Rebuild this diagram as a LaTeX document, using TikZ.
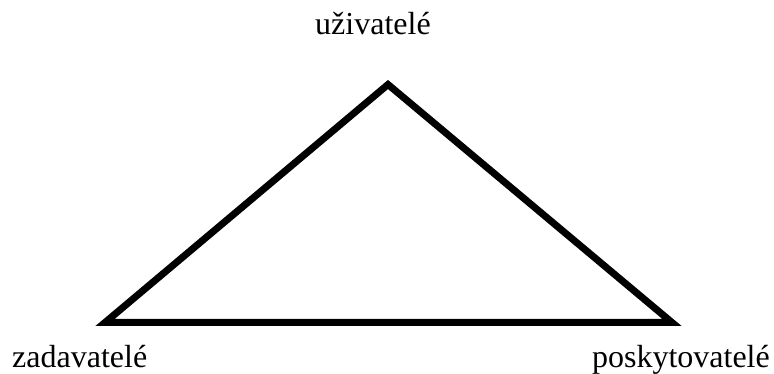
\documentclass[tikz,border=0pt]{standalone}
\usepackage{fontspec}
\setmainfont{Liberation Serif}
\usepackage{tikz}
\usetikzlibrary{positioning}
\tikzset{
  party/.style={inner sep=0pt,font=\fontsize{32}{38}\selectfont},
  side/.style={line width=7pt,line join=miter}
}

\begin{document}
\begin{tikzpicture}[x=1pt,y=1pt]
\useasboundingbox (0,0) rectangle (774,374);
\coordinate (top) at (388,289.5);
\coordinate (left) at (105,51.5);
\coordinate (right) at (672,51.5);
\draw[side] (left) -- (top) -- (right) -- cycle;
\node[party,anchor=base west] (uziv) at (315,339) {uživatelé};
\node[party,anchor=base west] (zadav) at (12,6) {zadavatelé};
\node[party,anchor=base east] (posk) at (770,6) {poskytovatelé};
\end{tikzpicture}
\end{document}
